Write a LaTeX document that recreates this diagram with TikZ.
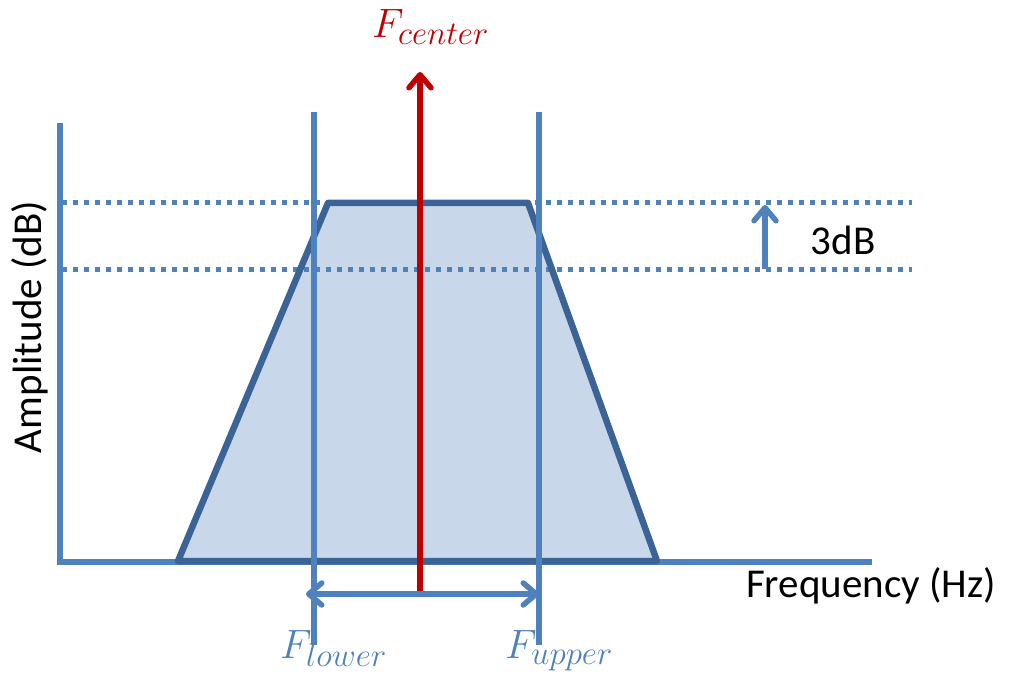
\RequirePackage{fix-cm}
\documentclass[tikz,border=0pt]{standalone}
\usepackage{fontspec}
\setmainfont{Carlito}
\DeclareMathSizes{41}{41}{33}{26}
\usetikzlibrary{arrows.meta}
\definecolor{axisblue}{HTML}{4F81BD}
\definecolor{edgeblue}{HTML}{3B6396}
\definecolor{fillblue}{HTML}{C8D7EA}
\definecolor{centerred}{HTML}{C00000}
\tikzset{
  axisline/.style={axisblue,line width=5.5pt},
  levelline/.style={axisblue,line width=5pt,dash pattern=on 5pt off 6pt},
  barb/.style={-{Straight Barb[length=13pt,width=22pt,round]}},
  lbl/.style={font=\fontsize{41}{48}\selectfont},
  freq/.style={lbl,inner sep=0pt,anchor=base west},
}
\begin{document}
\begin{tikzpicture}[x=1pt,y=-1pt]
  \useasboundingbox (0,0) rectangle (1009,679);
  % key points
  \coordinate (ytop) at (60,123);
  \coordinate (origin) at (60,562);
  \coordinate (xend) at (872,562);
  \coordinate (lo-top) at (314,112);
  \coordinate (lo-bot) at (314,645);
  \coordinate (up-top) at (539,112);
  \coordinate (up-bot) at (539,645);
  \coordinate (fc-bot) at (420,594);
  \coordinate (fc-tip) at (420,72);
  \coordinate (db-bot) at (765,269);
  \coordinate (db-top) at (765,205);
  % axes
  \draw[axisline,line join=miter] (ytop) -- (origin) -- (xend);
  % passband
  \fill[fillblue] (178,561) -- (328,203) -- (528,203) -- (657,561) -- cycle;
  \draw[levelline] (62,203) -- (912,203);
  \draw[levelline] (62,269) -- (912,269);
  \draw[edgeblue,line width=6.5pt,line join=round] (178,561) -- (328,203) -- (528,203) -- (657,561) -- cycle;
  \draw[axisline] (lo-top) -- (lo-bot);
  \draw[axisline] (up-top) -- (up-bot);
  \draw[centerred,line width=5.5pt,barb] (fc-bot) -- (fc-tip);
  \draw[axisline,{Straight Barb[length=13pt,width=22pt,round]}-{Straight Barb[length=13pt,width=22pt,round]}] (306,594) -- (539,594);
  \draw[axisline,barb] (db-bot) -- (db-top);
  % labels
  \node[lbl] (bw) at (843,240) {3dB};
  \node[lbl] (xlabel) at (871,586) {Frequency (Hz)};
  \node[lbl,rotate=90] (ylabel) at (30,327) {Amplitude (dB)};
  \node[freq,text=centerred] (fc) at (372,38) {$F_{center}$};
  \node[freq,text=axisblue] (flo) at (280,658) {$F_{lower}$};
  \node[freq,text=axisblue] (fup) at (505,658) {$F_{upper}$};
\end{tikzpicture}
\end{document}
